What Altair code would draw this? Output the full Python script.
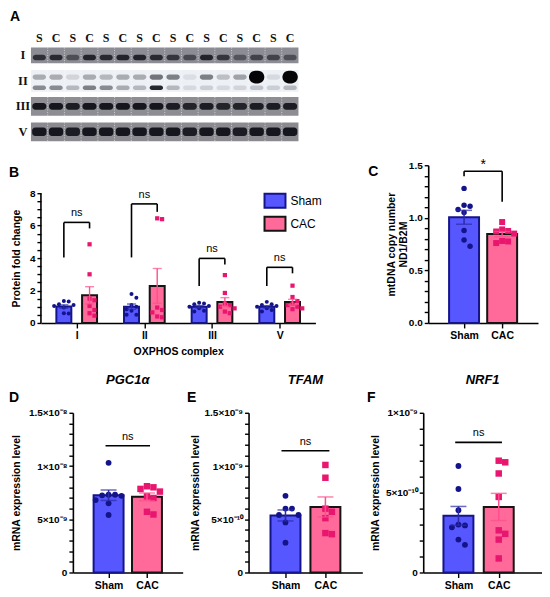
import math
import altair as alt
import pandas as pd

FONT = "Liberation Sans"
SERIF = "Liberation Serif"

# ======================= DATA =======================
groups = ["Sham", "CAC"]

# Panel A - western blot: band darkness per lane (0 = blank, 1 = saturated)
lane_labels = ["S", "C", "S", "C", "S", "C", "S", "C", "S", "C", "S", "C", "S", "C", "S", "C"]
blot_rows = ["I", "II", "III", "V"]
band_I = [0.75, 0.80, 0.50, 0.85, 0.80, 0.85, 0.85, 0.80, 0.70, 0.55, 0.85, 0.70, 0.45, 0.60, 0.60, 0.50]
band_II_upper = [0.30, 0.30, 0.12, 0.30, 0.25, 0.30, 0.30, 0.55, 0.50, 0.08, 0.50, 0.22, 0.35, 1.00, 0.10, 1.00]
band_II_lower = [0.45, 0.45, 0.25, 0.50, 0.45, 0.30, 0.25, 0.90, 0.25, 0.10, 0.15, 0.10, 0.12, 0.20, 0.15, 0.25]
band_III = [0.95, 0.95, 0.90, 0.95, 0.95, 0.95, 0.95, 0.95, 0.90, 0.85, 0.90, 0.85, 0.85, 0.90, 0.90, 0.90]
band_V = [0.95, 0.95, 0.90, 0.95, 0.95, 0.95, 0.95, 0.95, 0.95, 0.90, 0.95, 0.95, 0.90, 0.95, 0.95, 0.95]

# Panel B - protein fold change per OXPHOS complex
oxphos = ["I", "II", "III", "V"]
b_sham_I = [1.35, 1.32, 1.15, 1.10, 1.05, 0.95, 0.60, 0.58]
b_cac_I = [4.85, 3.00, 1.50, 1.40, 1.05, 0.80, 0.60, 0.45]
b_sham_II = [1.78, 1.55, 1.10, 1.00, 0.85, 0.75, 0.50, 0.50]
b_cac_II = [6.45, 6.40, 0.95, 0.80, 0.65, 0.40, 0.35]
b_sham_III = [1.25, 1.20, 1.15, 1.05, 1.00, 0.90, 0.75, 0.70]
b_cac_III = [2.95, 1.85, 1.20, 1.10, 1.00, 0.90, 0.70, 0.60]
b_sham_V = [1.30, 1.15, 1.10, 1.05, 1.00, 0.90, 0.80, 0.70]
b_cac_V = [2.30, 1.60, 1.35, 1.20, 1.10, 1.00, 0.90, 0.85]
b_bracket_top = [6.20, 7.34, 3.98, 3.43]
b_bracket_left = [4.04, 4.04, 2.28, 2.28]
b_bracket_right = [5.83, 6.85, 3.60, 3.06]
b_sig = ["ns", "ns", "ns", "ns"]

# Panel C - mtDNA copy number
c_sham = [1.28, 1.12, 1.11, 1.08, 1.05, 0.88, 0.79, 0.73]
c_cac = [0.96, 0.89, 0.875, 0.87, 0.85, 0.78, 0.775, 0.76]
c_bracket = [1.443, 1.396, 1.152]  # top, left end, right end
c_sig = "*"

# Panels D, E, F - mRNA expression level
d_sham = [10.3e-9, 7.3e-9, 7.3e-9, 7.25e-9, 7.2e-9, 6.8e-9, 6.5e-9, 5.4e-9]
d_cac = [8.1e-9, 8.0e-9, 7.85e-9, 7.6e-9, 7.15e-9, 7.0e-9, 5.7e-9, 5.45e-9]
d_line = 11.9e-9
e_sham = [0.72e-9, 0.60e-9, 0.60e-9, 0.54e-9, 0.54e-9, 0.47e-9, 0.28e-9]
e_cac = [1.01e-9, 0.89e-9, 0.60e-9, 0.57e-9, 0.51e-9, 0.37e-9, 0.36e-9]
e_line = 1.144e-9
f_sham = [0.667e-9, 0.523e-9, 0.39e-9, 0.30e-9, 0.295e-9, 0.283e-9, 0.206e-9, 0.173e-9]
f_cac = [0.70e-9, 0.69e-9, 0.62e-9, 0.473e-9, 0.264e-9, 0.242e-9, 0.206e-9, 0.088e-9]
f_line = 0.815e-9

d_labels = {0: "0", 5: "5×10⁻⁹", 10: "1×10⁻⁸", 15: "1.5×10⁻⁸"}
e_labels = {0: "0", 5: "5×10⁻¹⁰", 10: "1×10⁻⁹", 15: "1.5×10⁻⁹"}
f_labels = {0: "0", 5: "5×10⁻¹⁰", 10: "1×10⁻⁹"}

# ======================= STYLE =======================
SHAM_FILL = "#5757ff"
CAC_FILL = "#ff6a9b"
SHAM_EDGE = "#15158a"
CAC_EDGE = "#141414"
SHAM_PT = "#13138a"
CAC_PT = "#e8166e"
SHAM_ERR = "#2b2ba6"
CAC_ERR = "#ff4f8c"
STRIP_BG = ["#8c8c94", "#edf0f5", "#8d8d93", "#8a8a90"]


def mean_sem(vals):
    n = len(vals)
    m = sum(vals) / n
    sd = math.sqrt(sum((v - m) ** 2 for v in vals) / (n - 1))
    return m, sd / math.sqrt(n)


def swarm(vals, ppy, diam):
    """simple deterministic beeswarm: horizontal pixel offsets"""
    order = sorted(range(len(vals)), key=lambda i: -vals[i])
    placed = []
    offs = [0.0] * len(vals)
    step = diam * 1.1
    for i in order:
        y = vals[i] * ppy
        x = 0.0
        for k in [0, 1, -1, 2, -2, 3, -3, 4, -4]:
            x = k * step
            if all((x - px) ** 2 + (y - py) ** 2 >= (step * 0.98) ** 2 for px, py in placed):
                break
        placed.append((x, y))
        offs[i] = x
    return offs


def cond(a, b):
    return alt.condition(alt.datum.group == "Sham", alt.value(a), alt.value(b))


def letter_layer(letter, px, py):
    return alt.Chart(pd.DataFrame({"t": [letter]})).mark_text(
        font=FONT, fontSize=14, fontWeight="bold", color="black", align="center", baseline="middle"
    ).encode(x=alt.value(px), y=alt.value(py), text="t:N")


def spacer(w, h):
    return alt.Chart(pd.DataFrame({"s": [0]})).mark_point(opacity=0).encode(
        x=alt.X("s:Q", axis=None), y=alt.Y("s:Q", axis=None)
    ).properties(width=w, height=h)


# ======================= PANEL A =======================
LANE_PX = 16.75
ROW_PX = 25.5
A_W, A_H = 258, 157
a_xdom = [16 - A_W / LANE_PX, 16]
a_ydom = [-47 / ROW_PX, (A_H - 47) / ROW_PX]
strip_half = [0.31, 0.43, 0.37, 0.37]

strips = pd.DataFrame({
    "x": [0] * 4, "x2": [16] * 4,
    "y": [r - h for r, h in enumerate(strip_half)],
    "y2": [r + h for r, h in enumerate(strip_half)],
    "bg": STRIP_BG,
})

band_specs = [
    (0, band_I, 0.08, 0.22, 0.78),
    (1, band_II_upper, -0.15, 0.20, 0.80),
    (1, band_II_lower, 0.27, 0.18, 0.80),
    (2, band_III, 0.0, 0.27, 0.84),
    (3, band_V, 0.0, 0.33, 0.86),
]
bands, blobs = [], []
for r, ints, off, th, w in band_specs:
    for lane, a in enumerate(ints):
        if r == 1 and a >= 0.99:
            t, ww = 0.5, 0.92
            blobs.append(dict(x=lane + (1 - ww) / 2, x2=lane + (1 + ww) / 2,
                              y=r + off - t / 2, y2=r + off + t / 2, a=a))
        else:
            bands.append(dict(x=lane + (1 - w) / 2, x2=lane + (1 + w) / 2,
                              y=r + off - th / 2, y2=r + off + th / 2, a=a))
bands = pd.DataFrame(bands)
blobs = pd.DataFrame(blobs)

dividers = pd.DataFrame([
    dict(x=k, y=r - h, y2=r + h) for r, h in enumerate(strip_half) for k in range(1, 16)
])
lane_txt = pd.DataFrame({"x": [i + 0.5 for i in range(16)], "y": [-0.667] * 16, "t": lane_labels})
row_txt = pd.DataFrame({"x": [-0.48] * 4, "y": [0, 1, 2, 3], "t": blot_rows})

ax = alt.X("x:Q", scale=alt.Scale(domain=a_xdom, nice=False, zero=False), axis=None)
ay = alt.Y("y:Q", scale=alt.Scale(domain=a_ydom, nice=False, zero=False, reverse=True), axis=None)

a_chart = alt.layer(
    alt.Chart(strips).mark_rect().encode(x=ax, x2="x2:Q", y=ay, y2="y2:Q",
                                         color=alt.Color("bg:N", scale=None)),
    alt.Chart(bands).mark_rect(cornerRadius=3, color="#101018").encode(
        x=ax, x2="x2:Q", y=ay, y2="y2:Q", opacity=alt.Opacity("a:Q", scale=None)),
    alt.Chart(blobs).mark_rect(cornerRadius=7, color="#050508").encode(
        x=ax, x2="x2:Q", y=ay, y2="y2:Q", opacity=alt.Opacity("a:Q", scale=None)),
    alt.Chart(dividers).mark_rule(color="white", strokeDash=[1, 1.5], opacity=0.75, strokeWidth=0.8).encode(
        x=ax, y=ay, y2="y2:Q"),
    alt.Chart(lane_txt).mark_text(font=SERIF, fontSize=12, fontWeight="bold", color="#111").encode(
        x=ax, y=ay, text="t:N"),
    alt.Chart(row_txt).mark_text(font=SERIF, fontSize=12.5, fontWeight="bold", color="#111").encode(
        x=ax, y=ay, text="t:N"),
    letter_layer("A", -26, 8),
).properties(width=A_W, height=A_H)

# ======================= PANEL B =======================
# plot area is as tall as panel C; the y scale runs past 8 so that 0..8 spans the lower 130 px
B_W, B_H, B_AXIS_H = 275, 158, 130
B_XDOM = [-0.455, 3.455]
B_YMAX = 8
B_YTOP = B_YMAX * B_H / B_AXIS_H
B_OFF = 0.19
b_ppx = B_W / (B_XDOM[1] - B_XDOM[0])
b_ppy = B_H / B_YTOP
b_values = {
    "I": (b_sham_I, b_cac_I), "II": (b_sham_II, b_cac_II),
    "III": (b_sham_III, b_cac_III), "V": (b_sham_V, b_cac_V),
}
b_bars, b_pts, b_caps = [], [], []
for ci, cat in enumerate(oxphos):
    for gi, g in enumerate(groups):
        vals = b_values[cat][gi]
        xc = ci + (-B_OFF if gi == 0 else B_OFF)
        m, s = mean_sem(vals)
        b_bars.append(dict(group=g, x=xc, mean=m, lo=m - s, hi=m + s))
        b_caps += [dict(group=g, x=xc, y=m - s), dict(group=g, x=xc, y=m + s)]
        for v, o in zip(vals, swarm(vals, b_ppy, 4.6)):
            b_pts.append(dict(group=g, x=xc + o / b_ppx, v=v))
b_bars = pd.DataFrame(b_bars)
b_pts = pd.DataFrame(b_pts)
b_caps = pd.DataFrame(b_caps)
b_seg, b_txt = [], []
for ci in range(len(oxphos)):
    xl, xr = ci - B_OFF, ci + B_OFF
    top = b_bracket_top[ci]
    b_seg += [dict(x=xl, x2=xr, y=top, y2=top),
              dict(x=xl, x2=xl, y=b_bracket_left[ci], y2=top),
              dict(x=xr, x2=xr, y=b_bracket_right[ci], y2=top)]
    b_txt.append(dict(x=ci, y=top, t=b_sig[ci]))
b_seg = pd.DataFrame(b_seg)
b_txt = pd.DataFrame(b_txt)

BOX = "M-1,-0.667H1V0.667H-1Z"
leg = alt.Legend(title=None, orient="none", legendX=223, legendY=181, symbolType=BOX, symbolSize=441,
                 symbolStrokeWidth=2, labelFont=FONT, labelFontSize=12, labelFontWeight="normal",
                 labelColor="black", rowPadding=-3, labelOffset=4, symbolOpacity=1)
bxs = alt.Scale(domain=B_XDOM, nice=False, zero=False)
bys = alt.Scale(domain=[0, B_YTOP], nice=False)
BX = dict(scale=bxs, axis=alt.Axis(
    values=[0, 1, 2, 3], labelExpr="[" + ",".join("'%s'" % c for c in oxphos) + "][round(datum.value)]",
    title="OXPHOS complex", titleY=29, titleBaseline="middle", tickSize=5, labelPadding=3))
BY = dict(scale=bys, axis=alt.Axis(
    values=[i / 2 for i in range(17)], labelOverlap=False, domain=False,
    labelExpr="datum.value % 2 === 0 ? format(datum.value, 'd') : ''", tickSize=4,
    title="Protein fold change", titleX=-24, titleY=B_H - B_AXIS_H / 2, titleAngle=270,
    titleAlign="center", titleBaseline="middle", labelPadding=2))

b_chart = alt.layer(
    alt.Chart(b_bars).mark_bar(width=15, strokeWidth=2).encode(
        x=alt.X("x:Q", **BX), y=alt.Y("mean:Q", **BY),
        fill=alt.Fill("group:N", scale=alt.Scale(domain=groups, range=[SHAM_FILL, CAC_FILL]), legend=leg),
        stroke=alt.Stroke("group:N", scale=alt.Scale(domain=groups, range=[SHAM_EDGE, CAC_EDGE]), legend=leg),
    ),
    alt.Chart(b_pts).transform_filter(alt.datum.group == "Sham").mark_circle(size=16, opacity=1, color=SHAM_PT).encode(
        x=alt.X("x:Q", **BX), y=alt.Y("v:Q", **BY)),
    alt.Chart(b_pts).transform_filter(alt.datum.group == "CAC").mark_square(size=18, opacity=1, color=CAC_PT).encode(
        x=alt.X("x:Q", **BX), y=alt.Y("v:Q", **BY)),
    alt.Chart(b_bars).mark_rule(strokeWidth=1.4).encode(
        x=alt.X("x:Q", **BX), y=alt.Y("lo:Q", **BY), y2="hi:Q", color=cond(SHAM_ERR, CAC_ERR)),
    alt.Chart(b_caps).mark_tick(orient="horizontal", size=9, thickness=1.4).encode(
        x=alt.X("x:Q", **BX), y=alt.Y("y:Q", **BY), color=cond(SHAM_ERR, CAC_ERR)),
    alt.Chart(b_seg).mark_rule(strokeWidth=1.6, color="black").encode(
        x=alt.X("x:Q", **BX), x2="x2:Q", y=alt.Y("y:Q", **BY), y2="y2:Q"),
    alt.Chart(b_txt).mark_text(font=FONT, fontSize=11, dy=-9, color="black", baseline="middle").encode(
        x=alt.X("x:Q", **BX), y=alt.Y("y:Q", **BY), text="t:N"),
    # y axis line, only from 0 to 8
    alt.Chart(pd.DataFrame({"lo": [0], "hi": [B_YMAX]})).mark_rule(strokeWidth=1.6, color="black").encode(
        x=alt.value(0), y=alt.Y("lo:Q", **BY), y2="hi:Q"),
    letter_layer("B", -27, B_H - B_AXIS_H - 20),
).properties(width=B_W, height=B_H)


# ======================= TWO-GROUP PANELS =======================
def two_group(sham, cac, *, width, height, ymax, xdom, yticks, label_expr, ytitle,
              ytitle_x, pt_size, sq_size, cap, segs, texts, text_dy, text_size, letter, letter_pos,
              gene=None):
    ppy = height / ymax
    ppx = width / (xdom[1] - xdom[0])
    bars, pts, caps = [], [], []
    for gi, (g, vals) in enumerate(zip(groups, [sham, cac])):
        m, s = mean_sem(vals)
        bars.append(dict(group=g, x=gi, mean=m, lo=m - s, hi=m + s))
        caps += [dict(group=g, x=gi, y=m - s), dict(group=g, x=gi, y=m + s)]
        for v, o in zip(vals, swarm(vals, ppy, math.sqrt(sq_size))):
            pts.append(dict(group=g, x=gi + o / ppx, v=v))
    bars = pd.DataFrame(bars)
    pts = pd.DataFrame(pts)
    caps = pd.DataFrame(caps)
    X = dict(scale=alt.Scale(domain=xdom, nice=False, zero=False),
             axis=alt.Axis(values=[0, 1], labelExpr="['Sham','CAC'][round(datum.value)]", title=None,
                           tickSize=5, labelPadding=3))
    Y = dict(scale=alt.Scale(domain=[0, ymax], nice=False),
             axis=alt.Axis(values=yticks, labelOverlap=False, labelExpr=label_expr, tickSize=4,
                           title=ytitle, titleX=ytitle_x, titleY=height / 2, titleAngle=270,
                           titleAlign="center", titleBaseline="middle", labelPadding=2))
    layers = [
        alt.Chart(bars).mark_bar(width=30, strokeWidth=2).encode(
            x=alt.X("x:Q", **X), y=alt.Y("mean:Q", **Y),
            fill=cond(SHAM_FILL, CAC_FILL), stroke=cond(SHAM_EDGE, CAC_EDGE)),
        alt.Chart(pts).transform_filter(alt.datum.group == "Sham").mark_circle(
            size=pt_size, opacity=1, color=SHAM_PT).encode(x=alt.X("x:Q", **X), y=alt.Y("v:Q", **Y)),
        alt.Chart(pts).transform_filter(alt.datum.group == "CAC").mark_square(
            size=sq_size, opacity=1, color=CAC_PT).encode(x=alt.X("x:Q", **X), y=alt.Y("v:Q", **Y)),
        alt.Chart(bars).mark_rule(strokeWidth=1.5).encode(
            x=alt.X("x:Q", **X), y=alt.Y("lo:Q", **Y), y2="hi:Q", color=cond(SHAM_ERR, CAC_ERR)),
        alt.Chart(caps).mark_tick(orient="horizontal", size=cap, thickness=1.5).encode(
            x=alt.X("x:Q", **X), y=alt.Y("y:Q", **Y), color=cond(SHAM_ERR, CAC_ERR)),
        alt.Chart(pd.DataFrame(segs)).mark_rule(strokeWidth=1.6, color="black").encode(
            x=alt.X("x:Q", **X), x2="x2:Q", y=alt.Y("y:Q", **Y), y2="y2:Q"),
        alt.Chart(pd.DataFrame(texts)).mark_text(font=FONT, fontSize=text_size, dy=text_dy, color="black",
                                                 baseline="middle").encode(
            x=alt.X("x:Q", **X), y=alt.Y("y:Q", **Y), text="t:N"),
        letter_layer(letter, *letter_pos),
    ]
    props = dict(width=width, height=height)
    if gene:
        props["title"] = alt.TitleParams(gene, font=FONT, fontSize=13, fontWeight="bold", fontStyle="italic",
                                         offset=4, anchor="middle", color="black")
    return alt.layer(*layers).properties(**props)


def sci_expr(unit, mapping):
    k = "round(datum.value/%r)" % unit
    expr = "''"
    for key in sorted(mapping, reverse=True):
        expr = "%s == %d ? '%s' : (%s)" % (k, key, mapping[key], expr)
    return expr


def sci_ticks(n, exp):
    # exact decimal tick values k x 10^exp (no float drift past the domain end)
    return [float("%de%d" % (k, exp)) for k in range(n + 1)]


c_chart = two_group(
    c_sham, c_cac, width=110, height=158, ymax=1.5, xdom=[-0.81, 1.81],
    yticks=[round(i * 0.1, 1) for i in range(16)],
    label_expr="abs(datum.value*2 - round(datum.value*2)) < 1e-6 ? format(datum.value, '.1f') : ''",
    ytitle=["mtDNA copy number", "ND1/B2M"], ytitle_x=-37, pt_size=30, sq_size=36, cap=16,
    segs=[dict(x=0, x2=1, y=c_bracket[0], y2=c_bracket[0]),
          dict(x=0, x2=0, y=c_bracket[1], y2=c_bracket[0]),
          dict(x=1, x2=1, y=c_bracket[2], y2=c_bracket[0])],
    texts=[dict(x=0.5, y=c_bracket[0], t=c_sig)], text_dy=-6, text_size=14,
    letter="C", letter_pos=(-55, 7))

DE_XDOM = [-0.8, 1.8]
d_chart = two_group(
    d_sham, d_cac, width=110, height=160, ymax=1.5e-8, xdom=DE_XDOM,
    yticks=sci_ticks(15, -9), label_expr=sci_expr(1e-9, d_labels),
    ytitle="mRNA expression level", ytitle_x=-56, pt_size=34, sq_size=42, cap=16,
    segs=[dict(x=-0.08, x2=1.08, y=d_line, y2=d_line)], texts=[dict(x=0.5, y=d_line, t="ns")],
    text_dy=-9, text_size=11, letter="D", letter_pos=(-59, -15), gene="PGC1α")

e_chart = two_group(
    e_sham, e_cac, width=114, height=160, ymax=1.5e-9, xdom=DE_XDOM,
    yticks=sci_ticks(15, -10), label_expr=sci_expr(1e-10, e_labels),
    ytitle="mRNA expression level", ytitle_x=-53, pt_size=34, sq_size=42, cap=16,
    segs=[dict(x=-0.1, x2=1.1, y=e_line, y2=e_line)], texts=[dict(x=0.5, y=e_line, t="ns")],
    text_dy=-9, text_size=11, letter="E", letter_pos=(-57, -15), gene="TFAM")

f_chart = two_group(
    f_sham, f_cac, width=119, height=160, ymax=1e-9, xdom=[-0.75, 1.95],
    yticks=sci_ticks(10, -10), label_expr=sci_expr(1e-10, f_labels),
    ytitle="mRNA expression level", ytitle_x=-48, pt_size=34, sq_size=42, cap=16,
    segs=[dict(x=-0.08, x2=1.08, y=f_line, y2=f_line)], texts=[dict(x=0.5, y=f_line, t="ns")],
    text_dy=-9, text_size=11, letter="F", letter_pos=(-52, -15), gene="NRF1")

# ======================= LAYOUT =======================
# "flush" bounds: leaf views are placed by their own width/height; the nested rows count as
# zero height in the outer column, so a spacer leaf carries row 2's height plus the gap below it.
row2 = alt.hconcat(b_chart, spacer(113, B_H), c_chart, spacing=0, bounds="flush")
row3 = alt.hconcat(spacer(32, 160), d_chart, spacer(66, 160), e_chart, spacer(61, 160), f_chart,
                   spacing=0, bounds="flush")
chart = alt.vconcat(
    a_chart, row2, spacer(1, B_H + 90), row3, spacing=0, bounds="flush", padding=0,
).configure_view(stroke=None).configure_axis(
    grid=False, domainColor="black", domainWidth=1.6, tickColor="black", tickWidth=1.4,
    labelFont=FONT, labelFontWeight="bold", labelFontSize=10, labelColor="black",
    titleFont=FONT, titleFontWeight="bold", titleFontSize=10.5, titleColor="black",
).configure_axisX(labelFontSize=10.5)

chart.save("out.html", embed_options={"renderer": "svg", "actions": False})
